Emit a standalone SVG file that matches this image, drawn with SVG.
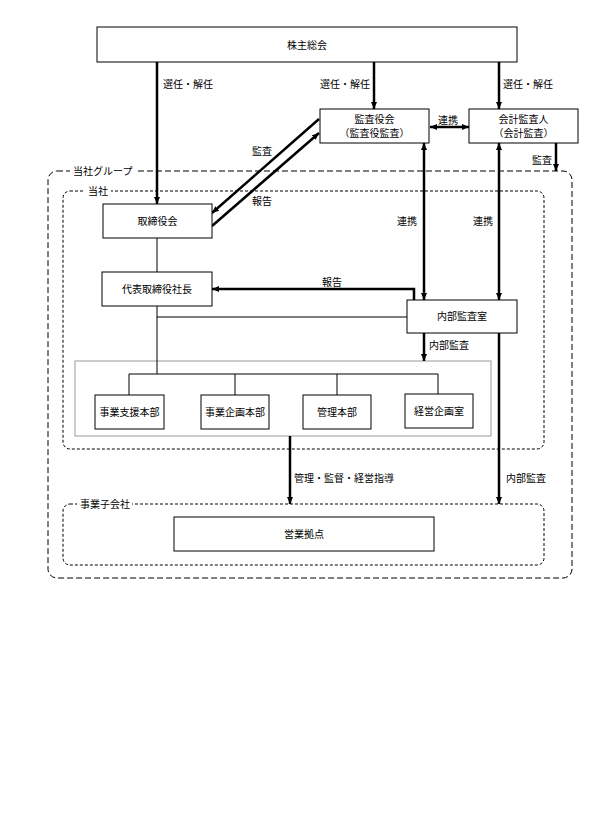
<svg xmlns="http://www.w3.org/2000/svg" width="612" height="816" viewBox="0 0 612 816">
<defs>
<marker id="ah" markerUnits="userSpaceOnUse" markerWidth="8" markerHeight="8" viewBox="0 0 8 8" refX="7" refY="4" orient="auto-start-reverse">
<path d="M0,1 L7,4 L0,7 Z" fill="#000"/>
</marker>
</defs>
<style>
text{font-family:"Noto Sans CJK JP","Noto Sans",sans-serif;font-size:10px;fill:#000}
.c{text-anchor:middle}
.box{fill:#fff;stroke:#000;stroke-width:1}
.thick{fill:none;stroke:#000;stroke-width:2.5}
.thin{fill:none;stroke:#000;stroke-width:1}
.outer{fill:none;stroke:#000;stroke-width:1;stroke-dasharray:6,3}
.inner{fill:none;stroke:#000;stroke-width:1;stroke-dasharray:3,2}
.lbg{fill:#fff}
</style>
<rect width="612" height="816" fill="#fff"/>

<g id="group-outer">
<rect class="outer" x="48" y="171" width="524" height="407" rx="9"/>
<rect class="lbg" x="70" y="164" width="66" height="14"/>
<text x="73" y="174.5">当社グループ</text>
</g>
<g id="group-company">
<rect class="inner" x="63" y="191" width="481" height="258" rx="7"/>
<rect class="lbg" x="85" y="184" width="26" height="14"/>
<text x="88" y="194.5">当社</text>
</g>
<g id="group-subsidiary">
<rect class="inner" x="63" y="504" width="481" height="61" rx="7"/>
<rect class="lbg" x="77" y="497" width="55" height="14"/>
<text x="80" y="507.5">事業子会社</text>
</g>
<g id="dept-container">
<rect x="75" y="361" width="416" height="75" fill="none" stroke="#999" stroke-width="1"/>
</g>

<g id="connectors">
<line class="thick" x1="157" y1="62" x2="157" y2="204" marker-end="url(#ah)"/>
<line class="thick" x1="374" y1="62" x2="374" y2="109" marker-end="url(#ah)"/>
<line class="thick" x1="499" y1="62" x2="499" y2="109" marker-end="url(#ah)"/>
<line class="thick" x1="430" y1="127" x2="469" y2="127" stroke-width="2" marker-start="url(#ah)" marker-end="url(#ah)"/>
<line class="thick" x1="556" y1="143" x2="556" y2="171" marker-end="url(#ah)"/>
<line class="thick" x1="319" y1="119" x2="212" y2="213" marker-end="url(#ah)"/>
<line class="thick" x1="212" y1="226" x2="319" y2="133" marker-end="url(#ah)"/>
<line class="thick" x1="424" y1="143" x2="424" y2="300" marker-start="url(#ah)" marker-end="url(#ah)"/>
<line class="thick" x1="499" y1="143" x2="499" y2="300" marker-start="url(#ah)" marker-end="url(#ah)"/>
<line class="thin" x1="157" y1="238" x2="157" y2="272"/>
<polyline class="thick" points="414,300 414,289 212,289" marker-end="url(#ah)"/>
<line class="thin" x1="157" y1="306" x2="157" y2="374"/>
<line class="thin" x1="157" y1="317" x2="407" y2="317"/>
<line class="thin" x1="129" y1="374" x2="438" y2="374"/>
<line class="thin" x1="129" y1="374" x2="129" y2="395"/>
<line class="thin" x1="235" y1="374" x2="235" y2="395"/>
<line class="thin" x1="337" y1="374" x2="337" y2="395"/>
<line class="thin" x1="438" y1="374" x2="438" y2="394"/>
<line class="thick" x1="424" y1="333" x2="424" y2="361" marker-end="url(#ah)"/>
<line class="thick" x1="290" y1="436" x2="290" y2="504" marker-end="url(#ah)"/>
<line class="thick" x1="499" y1="333" x2="499" y2="504" marker-end="url(#ah)"/>
<text x="163" y="88">選任・解任</text>
<text x="320" y="88">選任・解任</text>
<text x="503" y="88">選任・解任</text>
<text class="c" x="448" y="123.5">連携</text>
<text class="c" x="542" y="163.5">監査</text>
<text class="c" x="262" y="154.5">監査</text>
<text class="c" x="262" y="204.5">報告</text>
<text class="c" x="407" y="225">連携</text>
<text class="c" x="483" y="225">連携</text>
<text class="c" x="332" y="286">報告</text>
<text x="429" y="348.5">内部監査</text>
<text x="294" y="481.5">管理・監督・経営指導</text>
<text x="506" y="481.5">内部監査</text>
</g>

<g id="n-shareholders">
<rect class="box" x="97" y="27" width="420" height="35"/>
<text class="c" x="307" y="48.5">株主総会</text>
</g>
<g id="n-board">
<rect class="box" x="103" y="204" width="109" height="34"/>
<text class="c" x="157.5" y="224.5">取締役会</text>
</g>
<g id="n-president">
<rect class="box" x="102" y="272" width="110" height="34"/>
<text class="c" x="157" y="292.5">代表取締役社長</text>
</g>
<g id="n-auditboard">
<rect class="box" x="320" y="109" width="109" height="34"/>
<text class="c" x="374.5" y="123">監査役会</text>
<text class="c" x="374.5" y="136.5">（監査役監査）</text>
</g>
<g id="n-accountant">
<rect class="box" x="469" y="109" width="109" height="34"/>
<text class="c" x="523.5" y="123">会計監査人</text>
<text class="c" x="523.5" y="136.5">（会計監査）</text>
</g>
<g id="n-internalaudit">
<rect class="box" x="407" y="300" width="110" height="33"/>
<text class="c" x="462" y="320">内部監査室</text>
</g>
<g id="n-dept1">
<rect class="box" x="95" y="395" width="69" height="34"/>
<text class="c" x="129.5" y="415.5">事業支援本部</text>
</g>
<g id="n-dept2">
<rect class="box" x="201" y="395" width="68" height="34"/>
<text class="c" x="235" y="415.5">事業企画本部</text>
</g>
<g id="n-dept3">
<rect class="box" x="303" y="395" width="68" height="34"/>
<text class="c" x="337" y="415.5">管理本部</text>
</g>
<g id="n-dept4">
<rect class="box" x="405" y="394" width="68" height="34"/>
<text class="c" x="439" y="414.5">経営企画室</text>
</g>
<g id="n-sales">
<rect class="box" x="174" y="517" width="260" height="34"/>
<text class="c" x="304" y="537.5">営業拠点</text>
</g>
</svg>
